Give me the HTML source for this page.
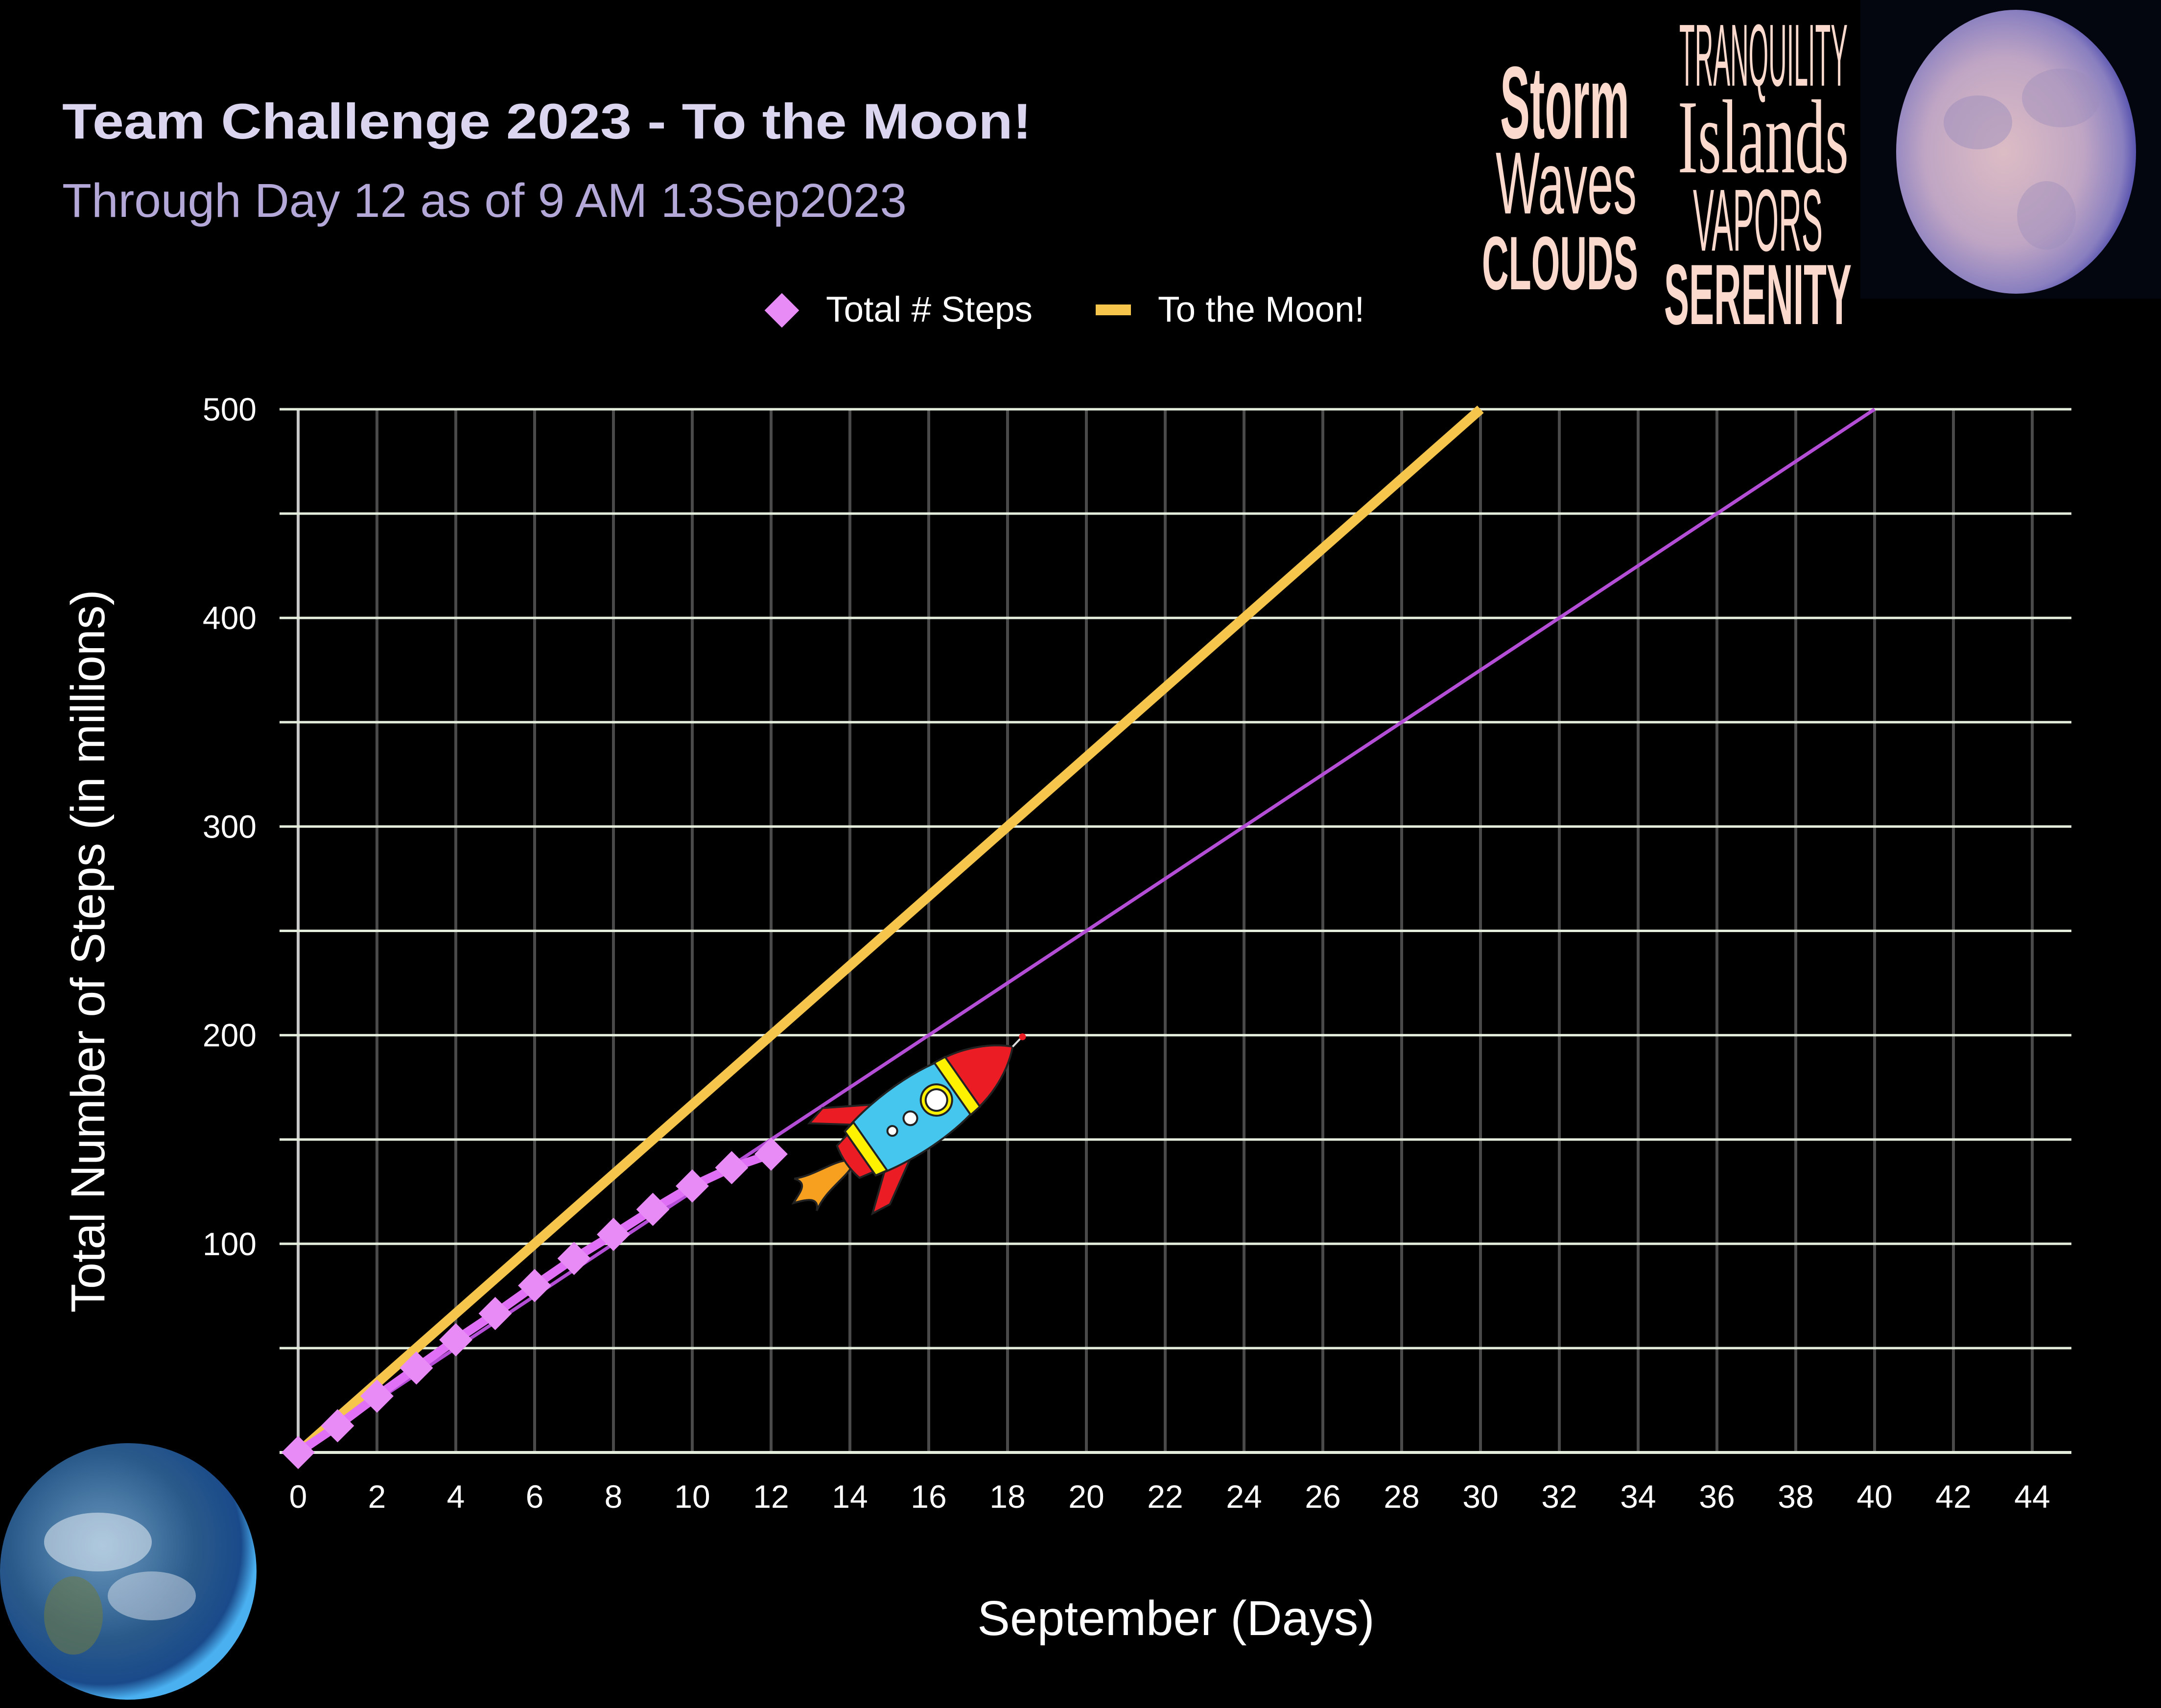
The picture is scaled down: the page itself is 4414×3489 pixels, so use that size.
<!DOCTYPE html>
<html><head><meta charset="utf-8"><style>
html,body{margin:0;padding:0;background:#000;}
svg{display:block;}
</style></head><body>
<svg id="chart" xmlns="http://www.w3.org/2000/svg" width="4414" height="3489" viewBox="0 0 4414 3489" font-family="'Liberation Sans', sans-serif">
<rect width="4414" height="3489" fill="#000"/>
<text x="127" y="283" font-size="102" font-weight="bold" fill="#dcd5f0" textLength="1980" lengthAdjust="spacingAndGlyphs">Team Challenge 2023 - To the Moon!</text>
<text x="127" y="443" font-size="97" fill="#b3a8d8" textLength="1725" lengthAdjust="spacingAndGlyphs">Through Day 12 as of 9 AM 13Sep2023</text>

<g>
  <rect x="1572" y="609" width="50" height="50" fill="#e88bf7" transform="rotate(45 1597 634)"/>
  <text x="1687" y="657" font-size="73" fill="#fff">Total # Steps</text>
  <rect x="2238" y="622" width="72" height="22" fill="#f5c54c"/>
  <text x="2365" y="657" font-size="73" fill="#fff">To the Moon!</text>
</g>

<g>
  <rect x="3800" y="0" width="614" height="610" fill="#04060f"/>
  <defs>
    <radialGradient id="moonG" cx="0.45" cy="0.5" r="0.55">
      <stop offset="0" stop-color="#dcbcc4"/>
      <stop offset="0.6" stop-color="#c0a6c4"/>
      <stop offset="0.9" stop-color="#8a80c0"/>
      <stop offset="1" stop-color="#5a55b0"/>
    </radialGradient>
    <radialGradient id="earthG" cx="0.4" cy="0.4" r="0.6">
      <stop offset="0" stop-color="#6a9ac0"/>
      <stop offset="0.6" stop-color="#2a5a8a"/>
      <stop offset="0.9" stop-color="#1a4a8a"/>
      <stop offset="1" stop-color="#4ab0f0"/>
    </radialGradient>
  </defs>
  <ellipse cx="4118" cy="310" rx="245" ry="290" fill="url(#moonG)"/>
  <ellipse cx="4040" cy="250" rx="70" ry="55" fill="#9a8cbc" opacity="0.45"/>
  <ellipse cx="4210" cy="200" rx="80" ry="60" fill="#9a8cbc" opacity="0.4"/>
  <ellipse cx="4180" cy="440" rx="60" ry="70" fill="#9a8cbc" opacity="0.4"/>
  <g fill="#fbd9cc">
    <text x="3064" y="282" font-size="210" font-weight="bold" textLength="264" lengthAdjust="spacingAndGlyphs">Storm</text>
    <text x="3055" y="436" font-size="180" textLength="288" lengthAdjust="spacingAndGlyphs">Waves</text>
    <text x="3027" y="591" font-size="155" font-weight="bold" textLength="319" lengthAdjust="spacingAndGlyphs">CLOUDS</text>
    <text x="3430" y="175" font-size="180" textLength="344" lengthAdjust="spacingAndGlyphs">TRANQUILITY</text>
    <text x="3427" y="352" font-size="215" font-family="'Liberation Serif', serif" textLength="349" lengthAdjust="spacingAndGlyphs">Islands</text>
    <text x="3458" y="512" font-size="180" textLength="265" lengthAdjust="spacingAndGlyphs">VAPORS</text>
    <text x="3399" y="662" font-size="175" font-weight="bold" textLength="383" lengthAdjust="spacingAndGlyphs">SERENITY</text>
  </g>
</g>

<g id="grid"></g>
<g id="axes"></g>
<g id="series"></g>

<text transform="translate(213 1943) rotate(-90)" text-anchor="middle" font-size="97" fill="#fff">Total Number of Steps (in millions)</text>
<text x="2402" y="3340" text-anchor="middle" font-size="100" fill="#fff">September (Days)</text>

<g transform="translate(1880 2270) rotate(-35)" stroke="#222" stroke-width="4">
  <path d="M-175,0 C-200,-20 -250,-15 -290,-35 C-270,-10 -300,-5 -320,5 C-290,15 -270,25 -290,45 C-250,20 -200,25 -175,10 Z" fill="#f7a020"/>
  <path d="M-120,-50 L-200,-110 L-160,-120 L-60,-60 Z" fill="#ec1c24"/>
  <path d="M-120,50 L-200,115 L-160,120 L-60,60 Z" fill="#ec1c24"/>
  <path d="M-180,-40 Q-190,0 -180,40 L-110,55 L-110,-55 Z" fill="#ec1c24"/>
  <path d="M-150,-55 C-60,-80 80,-80 150,-40 L150,40 C80,80 -60,80 -150,55 Z" fill="#45c6ef"/>
  <path d="M100,-62 C150,-55 200,-30 230,0 C200,30 150,55 100,62 Z" fill="#ec1c24"/>
  <path d="M80,-65 L105,-62 L105,62 L80,65 Z" fill="#fff200"/>
  <path d="M-150,-55 L-125,-60 L-125,60 L-150,55 Z" fill="#fff200"/>
  <circle cx="40" cy="0" r="32" fill="#fff200"/>
  <circle cx="40" cy="0" r="22" fill="#fff"/>
  <circle cx="-25" cy="0" r="14" fill="#fff"/>
  <circle cx="-70" cy="0" r="10" fill="#fff"/>
  <line x1="230" y1="0" x2="255" y2="-5" stroke="#ddd"/>
  <circle cx="258" cy="-5" r="7" fill="#ec1c24" stroke="none"/>
</g>

<g>
  <circle cx="262" cy="3210" r="262" fill="url(#earthG)"/>
  <ellipse cx="200" cy="3150" rx="110" ry="60" fill="#e8eef5" opacity="0.55"/>
  <ellipse cx="310" cy="3260" rx="90" ry="50" fill="#e8eef5" opacity="0.45"/>
  <ellipse cx="150" cy="3300" rx="60" ry="80" fill="#6a7a4a" opacity="0.6"/>
</g>

<script>
const days = [0,1,2,3,4,5,6,7,8,9,10,11,12];
const totalSteps = [0,12.8,27,40.5,54,66.6,80,93,104.5,116.5,127.7,136.5,143];
const moonLineDays = [0,30];
const moonLineValues = [0,500];
const paceLineDays = [0,40];
const paceLineValues = [0,500];
const xTickLabels = ['0','2','4','6','8','10','12','14','16','18','20','22','24','26','28','30','32','34','36','38','40','42','44'];
const yTickLabels = ['100','200','300','400','500'];

const NS = 'http://www.w3.org/2000/svg';
const X0 = 609, XPER = 80.5, Y0 = 2967, YPER = (2967 - 836) / 500;
const GL = 571, GR = 4231;
function xs(d){ return X0 + d * XPER; }
function ys(v){ return Y0 - v * YPER; }
function mk(tag, attrs, parent){
  const e = document.createElementNS(NS, tag);
  for (const k in attrs) e.setAttribute(k, attrs[k]);
  parent.appendChild(e);
  return e;
}
const grid = document.getElementById('grid');
const axes = document.getElementById('axes');
const series = document.getElementById('series');

xTickLabels.forEach(function(t){
  const d = parseFloat(t);
  const ln = mk('line', {x1: xs(d), x2: xs(d), y1: ys(500), y2: ys(0), stroke: d === 0 ? '#c8c8c8' : '#4a4a4a', 'stroke-width': 6}, grid);
  
  
  const tx = mk('text', {x: xs(d), y: 3080, 'text-anchor': 'middle', 'font-size': 66, fill: '#fff'}, axes);
  tx.textContent = t;
  
  
});
for (let v = 50; v <= 500; v += 50) {
  const ln = mk('line', {x1: GL, x2: GR, y1: ys(v), y2: ys(v), stroke: '#e4eddc', 'stroke-width': 5}, grid);
  
  
}
const ax = mk('line', {x1: GL, x2: GR, y1: ys(0), y2: ys(0), stroke: '#e4eddc', 'stroke-width': 6}, grid);


yTickLabels.forEach(function(t){
  const v = parseFloat(t);
  const tx = mk('text', {x: 524, y: ys(v) + 23, 'text-anchor': 'end', 'font-size': 66, fill: '#fff'}, axes);
  tx.textContent = t;
  
  
});

const pace = mk('line', {x1: xs(paceLineDays[0]), y1: ys(paceLineValues[0]), x2: xs(paceLineDays[1]), y2: ys(paceLineValues[1]), stroke: '#b44ed6', 'stroke-width': 7}, series);


const moon = mk('line', {x1: xs(moonLineDays[0]), y1: ys(moonLineValues[0]), x2: xs(moonLineDays[1]), y2: ys(moonLineValues[1]), stroke: '#f5c54c', 'stroke-width': 20}, series);


const pts = days.map(function(d,i){ return xs(d) + ',' + ys(totalSteps[i]); }).join(' ');
const pl = mk('polyline', {points: pts, fill: 'none', stroke: '#e070f5', 'stroke-width': 18}, series);


days.forEach(function(d,i){
  const cx = xs(d), cy = ys(totalSteps[i]);
  const r = mk('rect', {x: cx - 24, y: cy - 24, width: 48, height: 48, fill: '#e88bf7', transform: 'rotate(45 ' + cx + ' ' + cy + ')'}, series);
  
  
});
</script>
</svg>
</body></html>
